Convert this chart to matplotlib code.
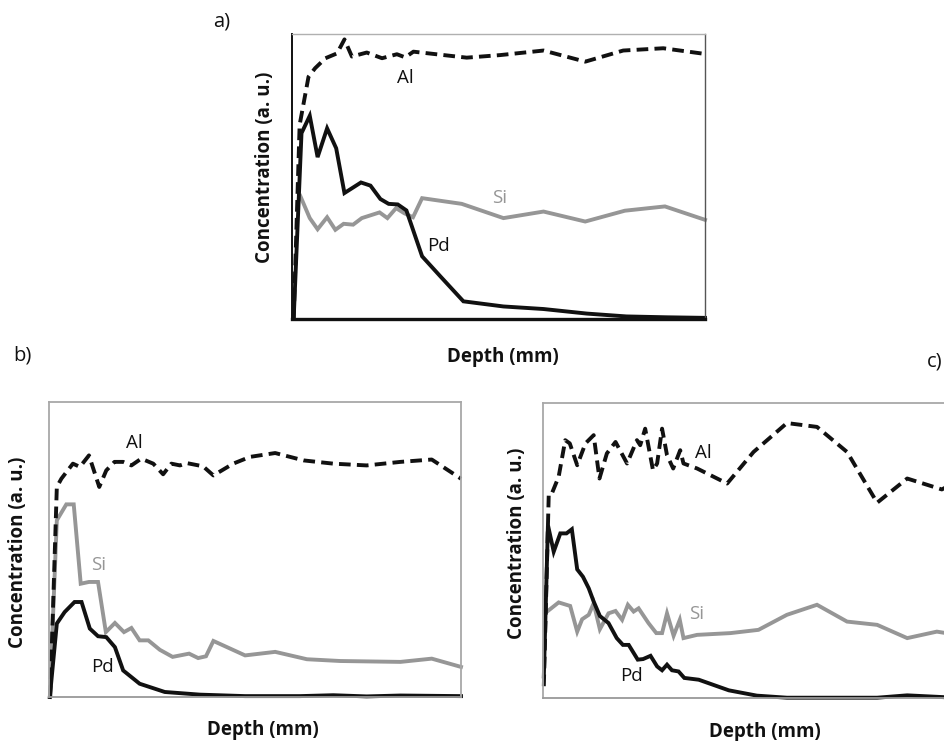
import matplotlib.pyplot as plt

plt.rcParams['font.family'] = ['Open Sans', 'DejaVu Sans']

# Depth and concentration traces, both normalised to 0-100 (arbitrary units)
# Panel a)
a_al_x = [0.4, 1.85, 4.0, 5.6, 8.1, 10.9, 12.7, 14.5, 18.1, 21.8, 25.4, 27.4, 29.4,
          34.3, 42.3, 50.4, 60.9, 71.0, 80.2, 89.9, 100]
a_al_y = [0, 68.1, 85.0, 88.0, 91.5, 93.2, 98.1, 92.1, 93.5, 91.5, 92.9, 91.8, 93.8,
          93.0, 91.7, 92.6, 94.2, 90.3, 94.2, 95.0, 93.0]
a_pd_x = [0.4, 2.3, 4.3, 6.2, 8.5, 10.7, 12.7, 16.7, 19.0, 21.4, 23.4, 25.6, 27.7,
          31.5, 35.9, 41.5, 51.2, 60.9, 71.4, 81.0, 90.7, 100]
a_pd_y = [0, 65.2, 71.3, 56.8, 66.9, 59.9, 44.2, 47.9, 46.8, 42.1, 40.4, 40.2, 38.1,
          22.0, 15.0, 6.2, 4.4, 3.5, 1.9, 0.9, 0.6, 0.4]
a_si_x = [2.0, 4.3, 6.2, 8.5, 10.5, 12.5, 14.8, 16.9, 21.2, 23.1, 25.2, 27.2,
          29.3, 31.5, 41.1, 51.2, 60.9, 71.0, 80.6, 90.3, 100]
a_si_y = [43.2, 35.4, 31.5, 35.7, 31.3, 33.4, 33.1, 35.4, 37.4, 35.4, 38.9, 37.1,
          35.7, 42.4, 40.4, 35.4, 37.7, 34.2, 38.0, 39.5, 34.8]

# Panel b)
b_al_x = [0.3, 1.9, 3.0, 5.8, 7.5, 9.7, 12.2, 13.9, 15.9, 18.0, 20.0, 22.4, 25.3,
          27.7, 29.7, 31.8, 33.4, 37.4, 39.9, 44.7, 48.8, 54.9, 61.8, 69.0, 77.1,
          85.3, 92.9, 100]
b_al_y = [0, 71.2, 74.0, 79.1, 78.0, 81.9, 71.2, 76.8, 79.7, 79.7, 78.5, 80.8, 79.1,
          75.5, 79.1, 78.5, 79.3, 78.2, 75.1, 79.1, 81.4, 82.7, 80.2, 79.1, 78.5,
          79.7, 80.5, 74.0]
b_si_x = [0.2, 1.9, 4.2, 6.0, 7.7, 9.7, 11.9, 13.8, 16.0, 18.2, 20.0, 22.0, 24.1,
          26.9, 30.0, 34.0, 36.2, 38.1, 39.9, 47.6, 54.9, 62.6, 70.7, 85.3, 92.9, 100]
b_si_y = [0, 59.9, 65.3, 65.3, 38.4, 39.0, 39.0, 22.0, 25.1, 22.0, 23.4, 19.2, 19.2,
          16.0, 13.6, 14.7, 13.2, 13.8, 19.0, 14.1, 15.3, 12.8, 12.2, 11.9, 13.0, 10.2]
b_pd_x = [0.2, 1.9, 3.8, 6.2, 7.9, 9.9, 11.9, 13.9, 16.0, 18.0, 22.0, 28.1, 36.6,
          47.6, 60.9, 69.0, 77.1, 85.3, 100]
b_pd_y = [0, 24.9, 28.8, 32.2, 32.2, 23.2, 20.6, 20.3, 16.9, 9.0, 4.5, 1.7, 0.8,
          0.3, 0.3, 0.6, 0.2, 0.5, 0.3]

# Panel c)
c_al_x = [0.2, 1.4, 2.2, 3.8, 5.4, 6.5, 8.3, 10.3, 12.3, 13.7, 15.5, 17.6, 20.4,
          22.8, 23.6, 24.8, 26.7, 27.7, 28.9, 30.1, 31.6, 33.3, 34.1, 37.4, 44.7,
          51.1, 59.2, 66.5, 73.8, 81.1, 88.4, 96.8, 100]
c_al_y = [4.0, 69.3, 69.5, 75.0, 87.4, 86.3, 78.9, 86.3, 89.1, 74.4, 82.9, 86.8, 79.5,
          87.4, 85.7, 91.3, 77.2, 79.5, 91.3, 82.3, 77.8, 84.0, 79.5, 77.8, 72.7,
          83.4, 93.2, 91.9, 83.4, 66.2, 74.4, 70.7, 73.0]
c_si_x = [1.0, 3.8, 6.6, 8.3, 9.5, 11.1, 12.3, 13.8, 15.9, 17.6, 19.2, 20.6, 22.0,
          23.2, 25.6, 27.5, 28.9, 30.1, 31.7, 33.2, 34.1, 37.4, 45.5, 52.3, 59.2,
          66.5, 73.8, 81.1, 88.4, 95.6, 100]
c_si_y = [29.3, 32.4, 31.2, 22.5, 26.7, 28.2, 32.1, 23.3, 28.7, 29.5, 26.5, 31.6, 29.3,
          30.4, 25.4, 22.0, 22.0, 28.7, 21.1, 26.5, 20.3, 21.4, 22.0, 23.1, 28.2,
          31.6, 25.9, 24.8, 20.3, 22.5, 21.5]
c_pd_x = [0.2, 1.2, 2.6, 4.2, 5.7, 7.0, 8.3, 9.7, 11.1, 12.3, 13.8, 15.9, 17.9, 19.4,
          20.8, 23.0, 24.3, 26.1, 27.7, 28.9, 30.1, 31.3, 32.9, 34.3, 37.8, 45.1,
          51.9, 59.2, 81.1, 88.4, 100]
c_pd_y = [7.3, 58.6, 49.6, 55.8, 55.8, 57.2, 43.6, 41.1, 37.2, 32.7, 27.8, 25.4, 20.3,
          18.0, 18.0, 13.0, 13.2, 14.3, 10.7, 9.4, 11.3, 9.4, 9.0, 6.8, 6.2, 2.6,
          0.8, 0.1, 0.1, 0.9, 0.1]

W, H = 944, 741
fig = plt.figure(figsize=(W / 100, H / 100), dpi=100)


def add_axes(x0, y0, x1, y1):
    # pixel box (top-left origin) -> figure fraction
    return fig.add_axes([x0 / W, 1 - y1 / H, (x1 - x0) / W, (y1 - y0) / H])


grey = '#969696'
lw = 2.8
dash = (3.0, 1.6)


def draw(ax, al, si, pd_, labels):
    ax.plot(si[0], si[1], color=grey, lw=lw, solid_joinstyle='miter', clip_on=False)
    ax.plot(pd_[0], pd_[1], color='#111111', lw=lw, solid_joinstyle='miter', clip_on=False)
    ax.plot(al[0], al[1], color='#111111', lw=lw, dashes=dash, clip_on=False)
    ax.set_xlim(0, 100)
    ax.set_ylim(0, 100)
    ax.set_xticks([])
    ax.set_yticks([])
    for (txt, x, y, c) in labels:
        ax.text(x, y, txt, color=c, fontsize=13.5, ha='center', va='center')


# a)
ax_a = add_axes(292, 34, 705, 319)
draw(ax_a, (a_al_x, a_al_y), (a_si_x, a_si_y), (a_pd_x, a_pd_y),
     [('Al', 27.4, 84.5, '#111111'), ('Si', 50.3, 42.5, grey), ('Pd', 35.5, 25.5, '#111111')])
ax_a.spines['left'].set_color('#111111')
ax_a.spines['left'].set_linewidth(1.4)
ax_a.spines['bottom'].set_color('#111111')
ax_a.spines['bottom'].set_linewidth(2.4)
ax_a.spines['top'].set_color('#b0b0b0')
ax_a.spines['top'].set_linewidth(1.0)
ax_a.spines['right'].set_color('#555555')
ax_a.spines['right'].set_linewidth(1.0)

# b)
ax_b = add_axes(49, 402, 461, 697)
draw(ax_b, (b_al_x, b_al_y), (b_si_x, b_si_y), (b_pd_x, b_pd_y),
     [('Al', 20.6, 86.0, '#111111'), ('Si', 12.0, 44.8, grey), ('Pd', 13.0, 10.2, '#111111')])

# c) - right part runs past the figure edge, as in the original
ax_c = add_axes(543, 403, 955, 698)
draw(ax_c, (c_al_x, c_al_y), (c_si_x, c_si_y), (c_pd_x, c_pd_y),
     [('Al', 38.8, 83.0, '#111111'), ('Si', 37.2, 28.5, grey), ('Pd', 21.5, 7.3, '#111111')])

for ax in (ax_b, ax_c):
    for s in ax.spines.values():
        s.set_color('#a8a8a8')
        s.set_linewidth(1.3)
    ax.spines['bottom'].set_color('#999999')

# axis titles
lab = dict(fontsize=13.5, fontweight='bold', color='#111111', ha='center', va='center')
fig.text(503 / W, 1 - 357 / H, 'Depth (mm)', **lab)
fig.text(263 / W, 1 - 730 / H, 'Depth (mm)', **lab)
fig.text(765 / W, 1 - 732 / H, 'Depth (mm)', **lab)
fig.text(265 / W, 1 - 167 / H, 'Concentration (a. u.)', rotation=90, **lab)
fig.text(18 / W, 1 - 552 / H, 'Concentration (a. u.)', rotation=90, **lab)
fig.text(517 / W, 1 - 543 / H, 'Concentration (a. u.)', rotation=90, **lab)

# panel letters
pl = dict(fontsize=14.5, color='#111111', va='center')
fig.text(222 / W, 1 - 22 / H, 'a)', ha='center', **pl)
fig.text(22 / W, 1 - 356 / H, 'b)', ha='center', **pl)
fig.text(943 / W, 1 - 361 / H, 'c)', ha='right', **pl)

fig.savefig('out.png', dpi=100)
